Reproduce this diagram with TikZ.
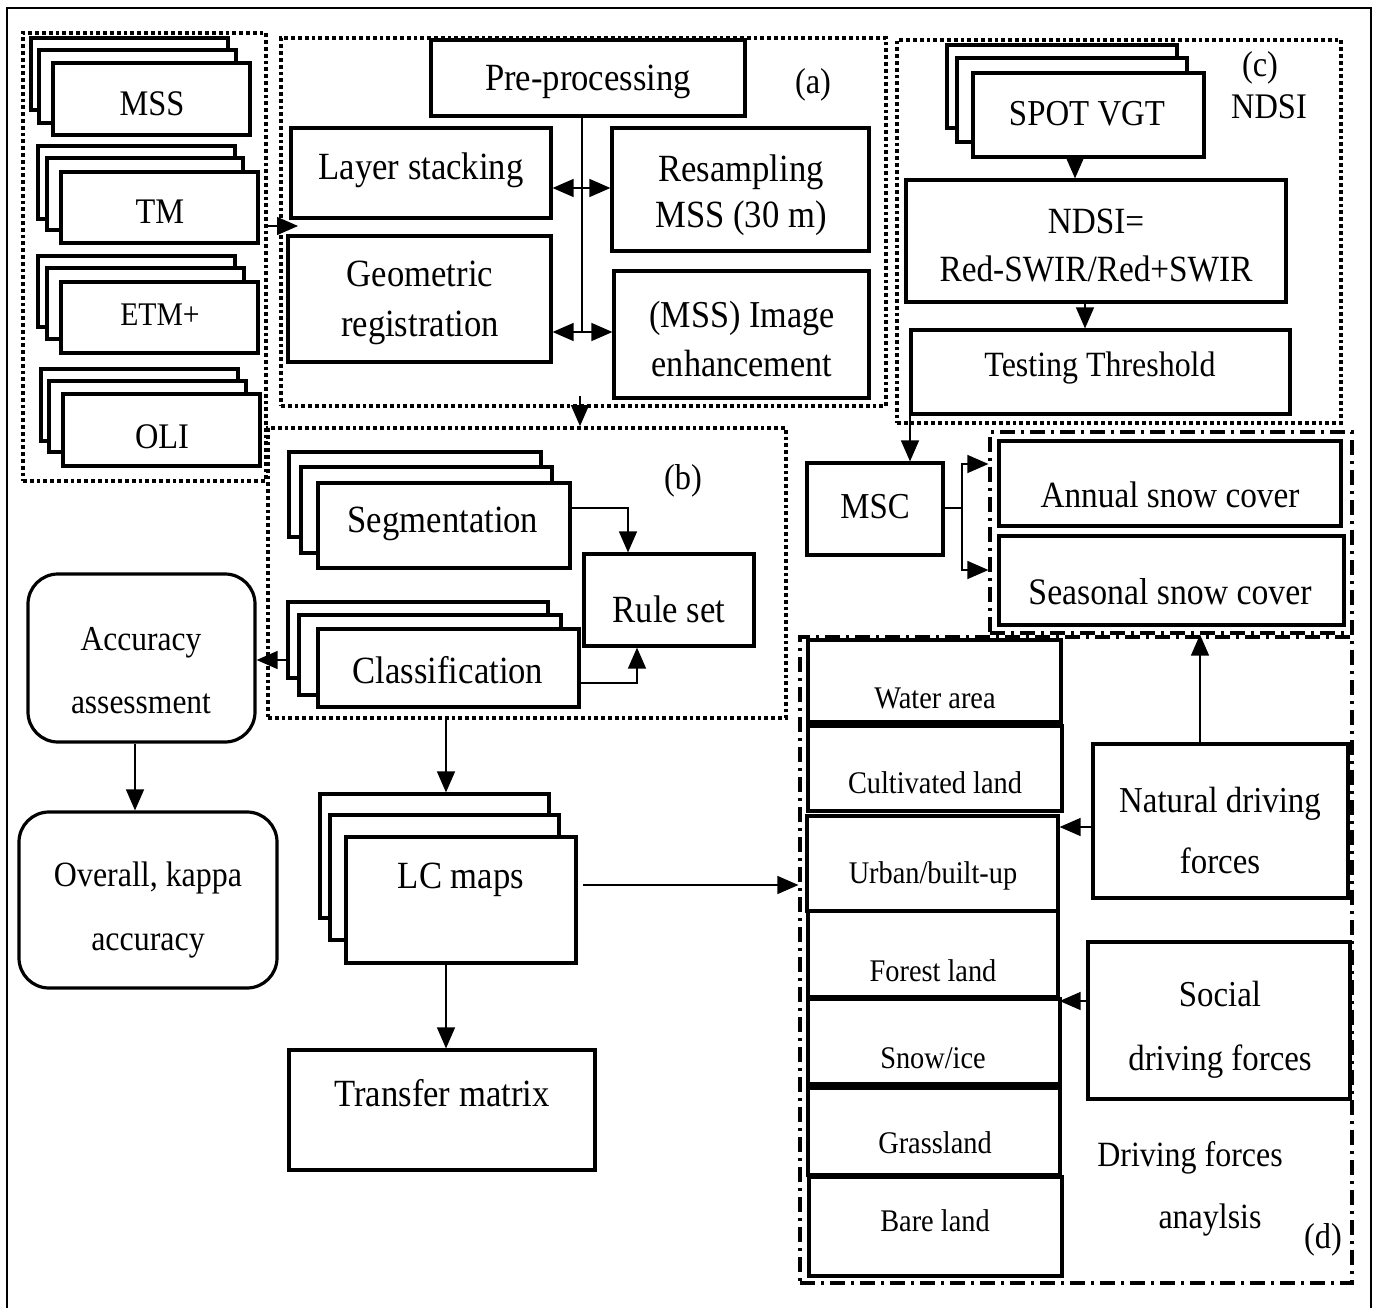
\documentclass[tikz,border=0pt]{standalone}
\usepackage{fontspec}
\setmainfont{Liberation Serif}[FakeStretch=0.9]
\usetikzlibrary{arrows.meta,calc}
\newcommand{\bx}[7][]{%
 \pgfmathsetmacro\bxcx{(#3+#5)/2}%
 \pgfmathsetmacro\bxcy{(#4+#6)/2}%
 \pgfmathsetmacro\bxw{#5-#3}%
 \pgfmathsetmacro\bxh{#6-#4}%
 \node[box, minimum width=\bxw pt, minimum height=\bxh pt, #1] (#2) at (\bxcx,\bxcy) {#7};}
\tikzset{
 box/.style={draw, line width=3.2pt, fill=white, inner sep=0pt, align=center},
 rbox/.style={rounded corners=30pt},
 grp/.style={fill=none, line width=3.8pt, dash pattern=on 3.8pt off 3pt},
 dgrp/.style={fill=none, line width=3.2pt, dash pattern=on 15pt off 6pt on 3pt off 6pt},
 conn/.style={line width=1.4pt},
 arr/.style={conn, -{Triangle[length=21pt,width=18pt]}},
 darr/.style={conn, {Triangle[length=21pt,width=18pt]}-{Triangle[length=21pt,width=18pt]}},
 txt/.style 2 args={font=\fontsize{#1}{#2}\selectfont, align=center, inner sep=0pt},
}
\begin{document}
\begin{tikzpicture}[x=1pt,y=-1pt]
\useasboundingbox (0,0) rectangle (1378,1308);
\fill[white] (0,0) rectangle (1378,1308);
\draw[line width=1.6pt] (7,1312) -- (7,8) -- (1371,8) -- (1371,1312);

% group boxes
\bx[grp]{inbox}{23}{33}{266}{481}{}
\bx[grp]{abox}{281}{38}{886}{406}{}
\bx[grp]{bbox}{268}{428}{786}{718}{}
\bx[grp]{cbox}{897}{40}{1341}{423}{}
\bx[dgrp]{snowbox}{990}{432}{1352}{633}{}
\bx[dgrp]{dbox}{800}{637}{1352}{1283}{}

% input stacks
\bx{mss3}{31}{38}{228}{110}{}
\bx{mss2}{39}{50}{236}{123}{}
\bx{mss}{53}{63}{250}{135}{}
\bx{tm3}{38}{146}{235}{219}{}
\bx{tm2}{47}{158}{243}{230}{}
\bx{tmf}{61}{172}{258}{243}{}
\bx{etm3}{38}{256}{235}{327}{}
\bx{etm2}{47}{268}{244}{339}{}
\bx{etm}{61}{282}{258}{353}{}
\bx{oli3}{41}{369}{238}{441}{}
\bx{oli2}{49}{381}{246}{452}{}
\bx{oli}{63}{394}{260}{466}{}
\node[txt={36}{44}] (mss-t) at (152,104) {MSS};
\node[txt={36}{44}] (tm-t) at (160,212) {TM};
\node[txt={33}{44}] (etm-t) at (160,315) {ETM+};
\node[txt={36}{44}] (oli-t) at (162,437) {OLI};

% (a)
\bx{pre}{431}{40}{745}{116}{}
\bx{layer}{291}{128}{551}{218}{}
\bx{resamp}{612}{128}{869}{251}{}
\bx{geo}{288}{236}{551}{362}{}
\bx{enh}{614}{271}{869}{398}{}
\node[txt={38.5}{46}] (pre-t) at (588,82) {Pre-processing};
\node[txt={38.5}{46}] (layer-t) at (421,170) {Layer stacking};
\node[txt={38.5}{46}] (resamp-t) at (741,195) {Resampling\\MSS (30 m)};
\node[txt={38.5}{50}] (geo-t) at (420,303) {Geometric\\registration};
\node[txt={38}{48}] (enh-t) at (742,339) {(MSS) Image\\enhancement};
\node[txt={36}{44}] (alab) at (813,85) {(a)};

% (b)
\bx{seg3}{289}{452}{541}{537}{}
\bx{seg2}{301}{467}{552}{553}{}
\bx{seg}{318}{483}{570}{568}{}
\bx{cls3}{288}{602}{548}{678}{}
\bx{cls2}{299}{615}{561}{695}{}
\bx{cls}{318}{629}{579}{707}{}
\bx{rule}{584}{554}{754}{646}{}
\node[txt={38.5}{46}] (seg-t) at (443,524) {Segmentation};
\node[txt={38.5}{46}] (cls-t) at (448,670) {Classification};
\node[txt={38.5}{46}] (rule-t) at (669,609) {Rule set};
\node[txt={36}{44}] (blab) at (683,481) {(b)};

% accuracy
\bx[rbox]{acc}{28}{574}{255}{742}{}
\bx[rbox]{overall}{19}{812}{277}{988}{}
\node[txt={35}{63}] (acc-t) at (141,671) {Accuracy\\assessment};
\node[txt={35.5}{64}] (overall-t) at (148,910) {Overall, kappa\\accuracy};

% LC maps
\bx{lc3}{320}{794}{549}{918}{}
\bx{lc2}{330}{815}{559}{940}{}
\bx{lc}{346}{837}{576}{963}{}
\bx{tm}{289}{1050}{595}{1170}{}
\node[txt={38.5}{46}] (lc-t) at (461,880) {LC maps};
\node[txt={38.5}{46}] (tmx-t) at (442,1093) {Transfer matrix};

% (c)
\bx{spot3}{947}{45}{1177}{128}{}
\bx{spot2}{957}{58}{1187}{142}{}
\bx{spot}{973}{73}{1204}{157}{}
\bx{ndsi}{906}{180}{1286}{302}{}
\bx{test}{911}{330}{1290}{414}{}
\node[txt={36.5}{44}] (spot-t) at (1087,114) {SPOT VGT};
\node[txt={37}{48}] (ndsi-t) at (1096,246) {NDSI=\\Red-SWIR/Red+SWIR};
\node[txt={35.5}{44}] (test-t) at (1100,368) {Testing Threshold};
\node[txt={36}{44}] (clab) at (1260,68) {(c)};
\node[txt={36}{44}] (ndsilab) at (1269,107) {NDSI};

% MSC and snow
\bx{msc}{807}{463}{943}{555}{}
\bx{annual}{999}{441}{1341}{526}{}
\bx{seasonal}{999}{536}{1344}{625}{}
\node[txt={36.5}{44}] (msc-t) at (875,507) {MSC};
\node[txt={37}{44}] (annual-t) at (1170,495) {Annual snow cover};
\node[txt={37.5}{44}] (seasonal-t) at (1170,592) {Seasonal snow cover};

% (d)
\bx{water}{808}{640}{1061}{722}{}
\bx{cult}{808}{726}{1062}{811}{}
\bx{urban}{807}{816}{1058}{911}{}
\bx{forest}{808}{911}{1058}{997}{}
\bx{snow}{808}{999}{1060}{1084}{}
\bx{grass}{808}{1088}{1060}{1175}{}
\bx{bare}{809}{1177}{1062}{1276}{}
\node[txt={31.5}{40}] (water-t) at (935,698) {Water area};
\node[txt={31.5}{40}] (cult-t) at (935,783) {Cultivated land};
\node[txt={31.5}{40}] (urban-t) at (933,876) {Urban/built-up};
\node[txt={31.5}{40}] (forest-t) at (933,971) {Forest land};
\node[txt={31.5}{40}] (snow-t) at (933,1058) {Snow/ice};
\node[txt={31.5}{40}] (grass-t) at (935,1143) {Grassland};
\node[txt={31.5}{40}] (bare-t) at (935,1221) {Bare land};
\bx{natural}{1093}{744}{1348}{898}{}
\bx{social}{1088}{942}{1350}{1099}{}
\node[txt={36.5}{61}] (natural-t) at (1220,831) {Natural driving\\forces};
\node[txt={36.5}{64}] (social-t) at (1220,1030) {Social\\driving forces};
\node[txt={35.5}{44}] (drive1) at (1190,1158) {Driving forces};
\node[txt={35.5}{44}] (drive2) at (1210,1220) {anaylsis};
\node[txt={36}{44}] (dlab) at (1323,1240) {(d)};

% connectors
\coordinate (ain) at (298,226);
\draw[arr] (inbox.east |- ain) -- (ain);
\coordinate (spine) at (582,332);
\draw[conn] (pre.south -| spine) -- (spine);
\draw[darr] (layer.east |- 0,188) -- (resamp.west |- 0,188);
\draw[darr] (geo.east |- 0,332) -- (enh.west |- 0,332);
\coordinate (aout) at (580,396);
\draw[arr] (aout) -- (bbox.north -| aout);
\draw[arr] (seg.east |- 0,508) -| (rule.north -| 628,0);
\draw[arr] (cls.east |- 0,683) -| (rule.south -| 637,0);
\draw[arr] (cls3.west |- 0,660) -- (acc.east |- 0,660);
\draw[arr] (acc.south -| 135,0) -- (overall.north -| 135,0);
\draw[arr] (bbox.south -| 446,0) -- (lc3.north -| 446,0);
\draw[arr] (lc.south -| 446,0) -- (tm.north -| 446,0);
\coordinate (lcout) at (583,885);
\draw[arr] (lcout) -- (lcout -| dbox.west);
\draw[arr] (spot.south -| 1075,0) -- (ndsi.north -| 1075,0);
\draw[arr] (ndsi.south -| 1085,0) -- (test.north -| 1085,0);
\draw[arr] (test.south -| 910,0) -- (msc.north -| 910,0);
\coordinate (mscj) at (962,508);
\draw[conn] (msc.east |- mscj) -- (mscj);
\draw[arr] (mscj) |- (snowbox.west |- 0,464);
\draw[arr] (mscj) |- (snowbox.west |- 0,570);
\draw[arr] (natural.north -| 1200,0) -- (snowbox.south -| 1200,0);
\draw[arr] (natural.west |- 0,827) -- (urban.east |- 0,827);
\draw[arr] (social.west |- 0,1001) -- (forest.east |- 0,1001);
\end{tikzpicture}
\end{document}
